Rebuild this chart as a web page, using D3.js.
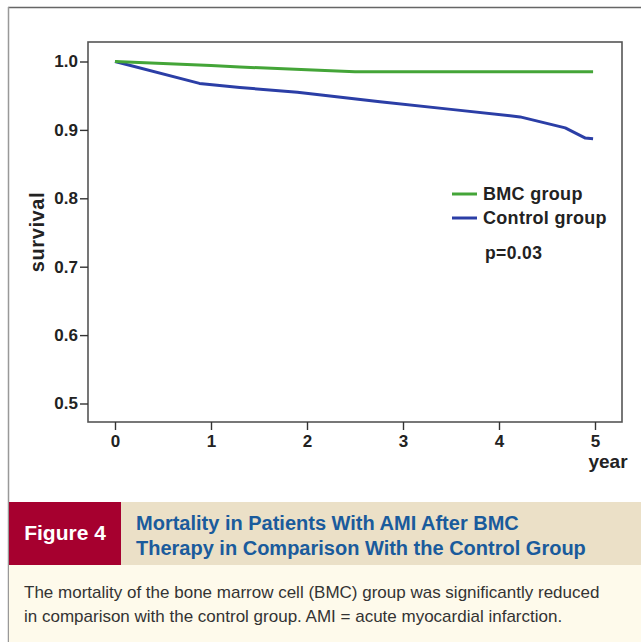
<!DOCTYPE html>
<html>
<head>
<meta charset="utf-8">
<script src="https://cdn.jsdelivr.net/npm/d3@7"></script>
<style>
  html, body { margin: 0; padding: 0; background: #fff; }
  svg { display: block; }
</style>
</head>
<body>
<script>
// Kaplan-Meier style survival estimates (year, survival)
const bmcYears      = [0, 0.5, 1.0, 1.3, 2.0, 2.5, 4.98];
const bmcSurvival   = [1.0, 0.997, 0.994, 0.992, 0.988, 0.985, 0.985];
const ctrlYears     = [0, 0.88, 1.3, 1.9, 2.76, 3.5, 4.22, 4.69, 4.9, 4.98];
const ctrlSurvival  = [1.0, 0.968, 0.962, 0.955, 0.941, 0.930, 0.919, 0.903, 0.888, 0.887];

const seriesNames   = ["BMC group", "Control group"];
const seriesColors  = ["#44a538", "#2b3ea6"];
const yTicks        = [0.5, 0.6, 0.7, 0.8, 0.9, 1.0];
const xTicks        = [0, 1, 2, 3, 4, 5];
const pValueText    = "p=0.03";

const figLabel      = "Figure 4";
const titleLines    = ["Mortality in Patients With AMI After BMC",
                       "Therapy in Comparison With the Control Group"];
const captionLines  = ["The mortality of the bone marrow cell (BMC) group was significantly reduced",
                       "in comparison with the control group. AMI = acute myocardial infarction."];

const W = 641, H = 642;
const svg = d3.select("body").append("svg").attr("width", W).attr("height", H);

// Outer figure frame
svg.append("rect").attr("x", 0).attr("y", 0).attr("width", W).attr("height", H).attr("fill", "#fff");
svg.append("line").attr("x1", 8).attr("x2", W).attr("y1", 7.5).attr("y2", 7.5)
  .attr("stroke", "#666").attr("stroke-width", 1.5);
svg.append("line").attr("x1", 8.5).attr("x2", 8.5).attr("y1", 7).attr("y2", H)
  .attr("stroke", "#999").attr("stroke-width", 1.5);

// Plot geometry
const plot = { left: 88, right: 622, top: 42, bottom: 422 };
const x = d3.scaleLinear().domain([0, 5]).range([115, 595]);
const y = d3.scaleLinear().domain([0.5, 1.0]).range([403.5, 61.5]);

const chart = svg.append("g");

// Plot box
chart.append("rect")
  .attr("x", plot.left).attr("y", plot.top)
  .attr("width", plot.right - plot.left).attr("height", plot.bottom - plot.top)
  .attr("fill", "#fff").attr("stroke", "#555").attr("stroke-width", 1.6);

const tickFont = "'Liberation Sans', Arial, sans-serif";

// Y axis
const yAxis = chart.append("g").attr("transform", `translate(${plot.left},0)`)
  .call(d3.axisLeft(y).tickValues(yTicks).tickFormat(d3.format(".1f")).tickSize(8).tickPadding(2));
yAxis.select(".domain").remove();
yAxis.selectAll(".tick line").attr("stroke", "#333").attr("stroke-width", 1.4);
yAxis.selectAll(".tick text")
  .attr("fill", "#222").style("font-family", tickFont).style("font-weight", "bold").style("font-size", "17px");

// X axis
const xAxis = chart.append("g").attr("transform", `translate(0,${plot.bottom})`)
  .call(d3.axisBottom(x).tickValues(xTicks).tickFormat(d3.format("d")).tickSize(8).tickPadding(5));
xAxis.select(".domain").remove();
xAxis.selectAll(".tick line").attr("stroke", "#333").attr("stroke-width", 1.4);
xAxis.selectAll(".tick text")
  .attr("fill", "#222").style("font-family", tickFont).style("font-weight", "bold").style("font-size", "17px");

// Axis titles
chart.append("text").attr("x", 608).attr("y", 468).attr("text-anchor", "middle")
  .attr("fill", "#222").style("font-family", tickFont).style("font-weight", "bold").style("font-size", "19px")
  .text("year");
chart.append("text").attr("transform", "translate(44,232) rotate(-90)").attr("text-anchor", "middle")
  .attr("fill", "#222").style("font-family", tickFont).style("font-weight", "bold").style("font-size", "20px")
  .style("letter-spacing", "0.6px")
  .text("survival");

// Survival curves
const line = d3.line().x(d => x(d[0])).y(d => y(d[1]));
const series = [
  d3.zip(bmcYears, bmcSurvival),
  d3.zip(ctrlYears, ctrlSurvival)
];
// Control drawn first, BMC on top
[1, 0].forEach(i => {
  chart.append("path").datum(series[i])
    .attr("d", line).attr("fill", "none")
    .attr("stroke", seriesColors[i]).attr("stroke-width", 3)
    .attr("stroke-linejoin", "round").attr("stroke-linecap", "butt");
});

// Legend
const legend = chart.append("g");
seriesNames.forEach((name, i) => {
  const ly = 194 + i * 24;
  legend.append("line").attr("x1", 452).attr("x2", 477).attr("y1", ly).attr("y2", ly)
    .attr("stroke", seriesColors[i]).attr("stroke-width", 3);
  legend.append("text").attr("x", 483).attr("y", ly + 6)
    .attr("fill", "#222").style("font-family", tickFont).style("font-weight", "bold").style("font-size", "18px")
    .style("letter-spacing", "0.3px")
    .text(name);
});
legend.append("text").attr("x", 485).attr("y", 259)
  .attr("fill", "#222").style("font-family", tickFont).style("font-weight", "bold").style("font-size", "17.5px")
  .style("letter-spacing", "0.4px")
  .text(pValueText);

// Caption band
const capFont = "'Liberation Sans Narrow', 'Arial Narrow', 'Liberation Sans', sans-serif";
svg.append("rect").attr("x", 9).attr("y", 502).attr("width", W - 9).attr("height", 63).attr("fill", "#ebe0c7");
svg.append("rect").attr("x", 9).attr("y", 502).attr("width", 112).attr("height", 63).attr("fill", "#a6002f");
svg.append("rect").attr("x", 9).attr("y", 565).attr("width", W - 9).attr("height", H - 565).attr("fill", "#fefaeb");

svg.append("text").attr("x", 65).attr("y", 540).attr("text-anchor", "middle")
  .attr("fill", "#fff").style("font-family", capFont).style("font-weight", "bold").style("font-size", "21px")
  .text(figLabel);

titleLines.forEach((t, i) => {
  svg.append("text").attr("x", 136).attr("y", 530 + i * 25)
    .attr("fill", "#1a5b9c").style("font-family", capFont).style("font-weight", "bold").style("font-size", "20px")
    .text(t);
});

captionLines.forEach((t, i) => {
  svg.append("text").attr("x", 24).attr("y", 598 + i * 24)
    .attr("fill", "#333").style("font-family", capFont).style("font-size", "17px")
    .text(t);
});
</script>
</body>
</html>
